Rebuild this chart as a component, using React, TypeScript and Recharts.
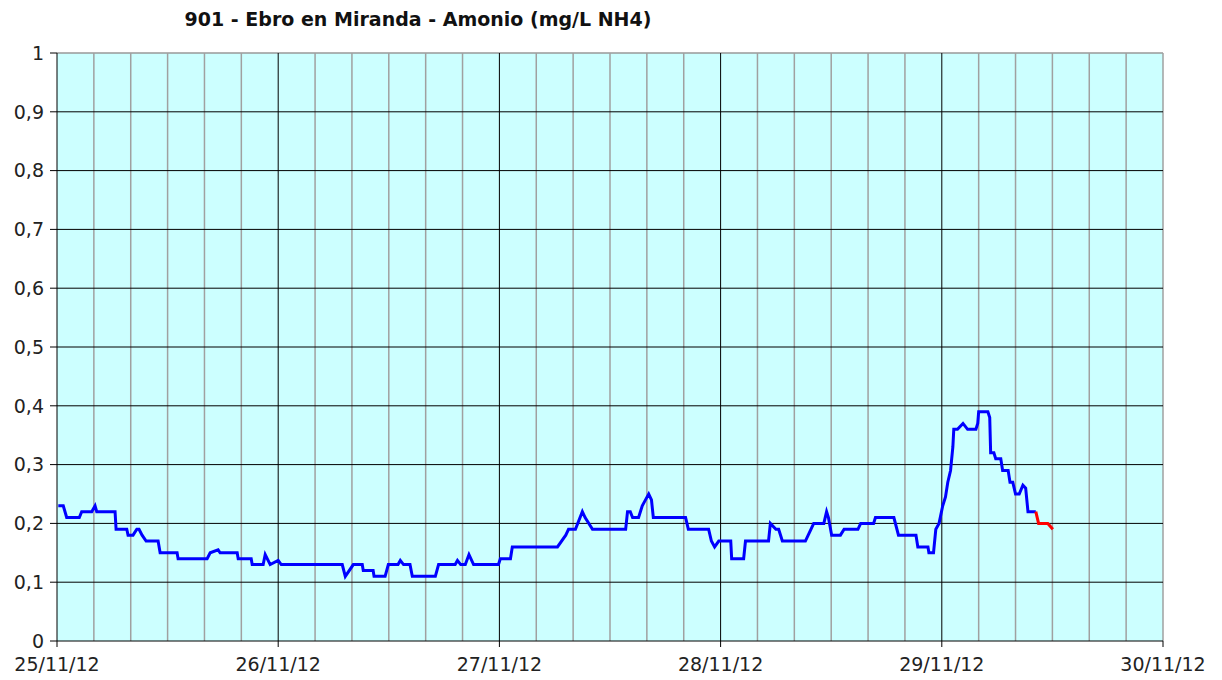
import React from 'react';
import {
  LineChart,
  Line,
  XAxis,
  YAxis,
  ReferenceLine,
  ReferenceArea,
} from 'recharts';

// hours since 25/11/12 00:00 and ammonium readings (mg/L NH4)
const blueHours = [
  0.14, 0.68, 1.05, 2.42, 2.68, 3.77, 4.13, 4.31, 6.3, 6.41, 7.57, 7.71, 8.25, 8.66, 8.9, 9.23, 9.67,
  10.97, 11.19, 13.03, 13.14, 16.29, 16.62, 17.48, 17.7, 19.55, 19.66, 21.07, 21.18, 22.37, 22.59,
  23.13, 24.0, 24.33, 30.95, 31.28, 32.15, 33.12, 33.23, 34.3, 34.4, 35.6, 35.95, 37.0, 37.25, 37.6,
  38.3, 38.55, 41.05, 41.4, 43.2, 43.45, 43.8, 44.3, 44.7, 45.2, 47.9, 48.1, 49.2, 49.4, 54.3, 55.2,
  55.5, 56.25, 57.0, 57.3, 58.1, 61.7, 61.9, 62.2, 62.45, 63.1, 63.5, 63.85, 64.2, 64.5, 64.7, 68.2,
  68.5, 70.7, 71.0, 71.35, 71.8, 73.1, 73.2, 74.5, 74.7, 77.2, 77.4, 78.0, 78.3, 78.7, 81.2, 81.8,
  82.1, 83.2, 83.5, 83.7, 84.05, 85.0, 85.4, 86.9, 87.2, 88.6, 88.8, 90.8, 91.3, 93.2, 93.4, 94.5,
  94.6, 95.1, 95.35, 95.7, 96.1, 96.4, 96.65, 96.95, 97.2, 97.3, 97.7, 98.3, 98.8, 99.7, 99.9, 100.0,
  101.0, 101.2, 101.3, 101.65, 101.85, 102.4, 102.6, 103.2, 103.4, 103.7, 104.0, 104.4, 104.8, 105.1,
  105.35, 106.0, 106.2,
];
const blueValues = [
  0.23, 0.23, 0.21, 0.21, 0.22, 0.22, 0.23, 0.22, 0.22, 0.19, 0.19, 0.18, 0.18, 0.19, 0.19, 0.18, 0.17,
  0.17, 0.15, 0.15, 0.14, 0.14, 0.15, 0.155, 0.15, 0.15, 0.14, 0.14, 0.13, 0.13, 0.147,
  0.13, 0.137, 0.13, 0.13, 0.11, 0.13, 0.13, 0.12, 0.12, 0.11, 0.11, 0.13, 0.13, 0.137, 0.13,
  0.13, 0.11, 0.11, 0.13, 0.13, 0.137, 0.13, 0.13, 0.147, 0.13, 0.13, 0.14, 0.14, 0.16, 0.16, 0.18,
  0.19, 0.19, 0.22, 0.21, 0.19, 0.19, 0.22, 0.22, 0.21, 0.21, 0.23, 0.24, 0.25, 0.24, 0.21, 0.21,
  0.19, 0.19, 0.17, 0.16, 0.17, 0.17, 0.14, 0.14, 0.17, 0.17, 0.2, 0.19, 0.19, 0.17, 0.17, 0.19,
  0.2, 0.2, 0.22, 0.21, 0.18, 0.18, 0.19, 0.19, 0.2, 0.2, 0.21, 0.21, 0.18, 0.18, 0.16, 0.16,
  0.15, 0.15, 0.19, 0.2, 0.23, 0.245, 0.27, 0.29, 0.33, 0.36, 0.36, 0.37, 0.36, 0.36, 0.37, 0.39,
  0.39, 0.38, 0.32, 0.32, 0.31, 0.31, 0.29, 0.29, 0.27, 0.27, 0.25, 0.25, 0.265, 0.26,
  0.22, 0.22, 0.22,
];

// latest (provisional) readings drawn in red
const redHours = [106.2, 106.5, 107.5, 108.05];
const redValues = [0.22, 0.2, 0.2, 0.19];

const dayTicks = [0, 24, 48, 72, 96, 120];
const dayLabels = ['25/11/12', '26/11/12', '27/11/12', '28/11/12', '29/11/12', '30/11/12'];
const yTicks = [0, 0.1, 0.2, 0.3, 0.4, 0.5, 0.6, 0.7, 0.8, 0.9, 1];
const hourGrid = [4, 8, 12, 16, 20, 28, 32, 36, 40, 44, 52, 56, 60, 64, 68, 76, 80, 84, 88, 92, 100, 104, 108, 112, 116, 120];
const dayGrid = [24, 48, 72, 96];
const valueGrid = [0.1, 0.2, 0.3, 0.4, 0.5, 0.6, 0.7, 0.8, 0.9];

const blueData = blueHours.map((h, i) => ({ h, v: blueValues[i] }));
const redData = redHours.map((h, i) => ({ h, v: redValues[i] }));

const FONT = 'DejaVu Sans, Verdana, sans-serif';

export default function App() {
  const fmtY = (v: number) => (v === 0 ? '0' : v === 1 ? '1' : v.toFixed(1).replace('.', ','));
  const fmtX = (v: number) => dayLabels[dayTicks.indexOf(v)] ?? '';

  return (
    <div style={{ position: 'absolute', left: 0, top: 0, width: 1222, height: 680, background: '#fff' }}>
      <div
        style={{
          position: 'absolute',
          left: 0,
          top: 8,
          width: 836,
          textAlign: 'center',
          fontFamily: FONT,
          fontWeight: 'bold',
          fontSize: 19,
          color: '#111',
        }}
      >
        901 - Ebro en Miranda - Amonio (mg/L NH4)
      </div>
      <LineChart
        width={1222}
        height={680}
        margin={{ top: 53, right: 59, bottom: 0, left: 0 }}
        style={{ position: 'absolute', left: 0, top: 0 }}
      >
        <XAxis
          dataKey="h"
          type="number"
          domain={[0, 120]}
          ticks={dayTicks}
          tickFormatter={fmtX}
          height={39}
          allowDataOverflow
          stroke="#000"
          tickSize={6}
          tick={{ fill: '#222', fontSize: 19, fontFamily: FONT }}
          tickMargin={11}
        />
        <YAxis
          type="number"
          domain={[0, 1]}
          ticks={yTicks}
          tickFormatter={fmtY}
          width={57}
          stroke="#000"
          tickSize={7}
          tick={{ fill: '#222', fontSize: 19, fontFamily: FONT }}
          tickMargin={6}
          interval={0}
        />
        <ReferenceArea x1={0} x2={120} y1={0} y2={1} fill="#CCFFFF" fillOpacity={1} stroke="none" />
        <ReferenceLine y={1} stroke="#999" strokeWidth={1.5} />
        {hourGrid.map((h) => (
          <ReferenceLine key={`h-${h}`} x={h} stroke="#a0a0a0" strokeWidth={1.5} />
        ))}
        {valueGrid.map((v) => (
          <ReferenceLine key={`v-${v}`} y={v} stroke="#000" strokeWidth={1} />
        ))}
        {dayGrid.map((d) => (
          <ReferenceLine key={`d-${d}`} x={d} stroke="#000" strokeWidth={1} />
        ))}
        <Line
          data={blueData}
          dataKey="v"
          type="linear"
          stroke="#0000FF"
          strokeWidth={3}
          dot={false}
          isAnimationActive={false}
        />
        <Line
          data={redData}
          dataKey="v"
          type="linear"
          stroke="#FF0000"
          strokeWidth={3}
          dot={false}
          isAnimationActive={false}
        />
      </LineChart>
    </div>
  );
}
